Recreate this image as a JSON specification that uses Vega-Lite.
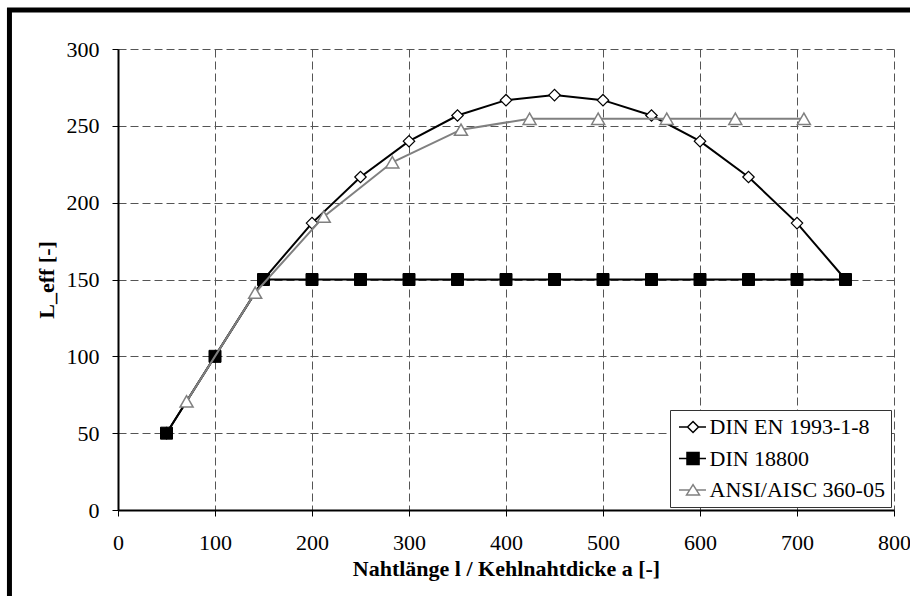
{
  "$schema": "https://vega.github.io/schema/vega-lite/v6.json",
  "width": 776,
  "height": 461,
  "autosize": {"type": "none"},
  "padding": {"left": 118, "top": 49, "right": 16, "bottom": 86},
  "background": "white",
  "config": {
    "view": {"stroke": null},
    "axis": {
      "labelFont": "Liberation Serif",
      "labelFontSize": 22,
      "labelColor": "black",
      "titleFont": "Liberation Serif",
      "titleFontSize": 22,
      "titleFontWeight": "bold",
      "titleColor": "black",
      "domainColor": "black",
      "domainWidth": 2,
      "tickColor": "black",
      "tickSize": 6,
      "tickWidth": 1,
      "grid": true,
      "gridColor": "#555555",
      "gridDash": [8, 4],
      "gridWidth": 1
    },
    "legend": {
      "labelFont": "Liberation Serif",
      "labelFontSize": 22,
      "labelColor": "black"
    }
  },
  "datasets": {
    "main": [
      {"x": 50, "y": 50, "series": "DIN EN 1993-1-8"},
      {"x": 100, "y": 100, "series": "DIN EN 1993-1-8"},
      {"x": 150, "y": 150, "series": "DIN EN 1993-1-8"},
      {"x": 200, "y": 186.7, "series": "DIN EN 1993-1-8"},
      {"x": 250, "y": 216.7, "series": "DIN EN 1993-1-8"},
      {"x": 300, "y": 240, "series": "DIN EN 1993-1-8"},
      {"x": 350, "y": 256.7, "series": "DIN EN 1993-1-8"},
      {"x": 400, "y": 266.7, "series": "DIN EN 1993-1-8"},
      {"x": 450, "y": 270, "series": "DIN EN 1993-1-8"},
      {"x": 500, "y": 266.7, "series": "DIN EN 1993-1-8"},
      {"x": 550, "y": 256.7, "series": "DIN EN 1993-1-8"},
      {"x": 600, "y": 240, "series": "DIN EN 1993-1-8"},
      {"x": 650, "y": 216.7, "series": "DIN EN 1993-1-8"},
      {"x": 700, "y": 186.7, "series": "DIN EN 1993-1-8"},
      {"x": 750, "y": 150, "series": "DIN EN 1993-1-8"},
      {"x": 50, "y": 50, "series": "DIN 18800"},
      {"x": 100, "y": 100, "series": "DIN 18800"},
      {"x": 150, "y": 150, "series": "DIN 18800"},
      {"x": 200, "y": 150, "series": "DIN 18800"},
      {"x": 250, "y": 150, "series": "DIN 18800"},
      {"x": 300, "y": 150, "series": "DIN 18800"},
      {"x": 350, "y": 150, "series": "DIN 18800"},
      {"x": 400, "y": 150, "series": "DIN 18800"},
      {"x": 450, "y": 150, "series": "DIN 18800"},
      {"x": 500, "y": 150, "series": "DIN 18800"},
      {"x": 550, "y": 150, "series": "DIN 18800"},
      {"x": 600, "y": 150, "series": "DIN 18800"},
      {"x": 650, "y": 150, "series": "DIN 18800"},
      {"x": 700, "y": 150, "series": "DIN 18800"},
      {"x": 750, "y": 150, "series": "DIN 18800"},
      {"x": 70.7, "y": 70.7, "series": "ANSI/AISC 360-05"},
      {"x": 141.4, "y": 141.4, "series": "ANSI/AISC 360-05"},
      {"x": 212.1, "y": 190.9, "series": "ANSI/AISC 360-05"},
      {"x": 282.8, "y": 226.3, "series": "ANSI/AISC 360-05"},
      {"x": 353.6, "y": 247.5, "series": "ANSI/AISC 360-05"},
      {"x": 424.3, "y": 254.6, "series": "ANSI/AISC 360-05"},
      {"x": 495.0, "y": 254.6, "series": "ANSI/AISC 360-05"},
      {"x": 565.7, "y": 254.6, "series": "ANSI/AISC 360-05"},
      {"x": 636.4, "y": 254.6, "series": "ANSI/AISC 360-05"},
      {"x": 707.1, "y": 254.6, "series": "ANSI/AISC 360-05"}
    ]
  },
  "layer": [
    {
      "data": {"name": "main"},
      "transform": [{"filter": "datum.series === 'DIN EN 1993-1-8'"}],
      "mark": {"type": "line", "strokeWidth": 2, "color": "black"},
      "encoding": {
        "x": {
          "field": "x", "type": "quantitative",
          "scale": {"domain": [0, 800], "nice": false, "zero": false},
          "axis": {"values": [0, 100, 200, 300, 400, 500, 600, 700, 800], "grid": true, "title": "Nahtlänge l / Kehlnahtdicke a [-]", "labelPadding": 16, "titlePadding": 5, "labelFlush": false}
        },
        "y": {
          "field": "y", "type": "quantitative",
          "scale": {"domain": [0, 300], "nice": false, "zero": false},
          "axis": {"values": [0, 50, 100, 150, 200, 250, 300], "grid": true, "title": "L_eff [-]", "labelPadding": 13, "titlePadding": 8}
        }
      }
    },
    {
      "data": {"name": "main"},
      "transform": [{"filter": "datum.series === 'DIN EN 1993-1-8'"}],
      "mark": {"type": "point", "shape": "diamond", "size": 130, "filled": true, "fill": "white", "stroke": "black", "strokeWidth": 1.2, "opacity": 1},
      "encoding": {
        "x": {"field": "x", "type": "quantitative"},
        "y": {"field": "y", "type": "quantitative"}
      }
    },
    {
      "data": {"name": "main"},
      "transform": [{"filter": "datum.series === 'DIN 18800'"}],
      "mark": {"type": "line", "strokeWidth": 2, "color": "black"},
      "encoding": {
        "x": {"field": "x", "type": "quantitative"},
        "y": {"field": "y", "type": "quantitative"}
      }
    },
    {
      "data": {"name": "main"},
      "transform": [{"filter": "datum.series === 'DIN 18800'"}],
      "mark": {"type": "point", "shape": "square", "size": 144, "filled": true, "fill": "black", "stroke": "black", "strokeWidth": 1, "opacity": 1},
      "encoding": {
        "x": {"field": "x", "type": "quantitative"},
        "y": {"field": "y", "type": "quantitative"}
      }
    },
    {
      "data": {"name": "main"},
      "transform": [{"filter": "datum.series === 'ANSI/AISC 360-05'"}],
      "mark": {"type": "line", "strokeWidth": 2, "color": "#808080"},
      "encoding": {
        "x": {"field": "x", "type": "quantitative"},
        "y": {"field": "y", "type": "quantitative"}
      }
    },
    {
      "data": {"name": "main"},
      "transform": [{"filter": "datum.series === 'ANSI/AISC 360-05'"}],
      "mark": {"type": "point", "shape": "triangle-up", "size": 170, "filled": true, "fill": "white", "stroke": "#808080", "strokeWidth": 1.5, "opacity": 1},
      "encoding": {
        "x": {"field": "x", "type": "quantitative"},
        "y": {"field": "y", "type": "quantitative"}
      }
    },
    {
      "data": {"name": "main"},
      "transform": [{"filter": "datum.x > 100000"}],
      "mark": {"type": "point", "filled": true, "strokeWidth": 1.5, "opacity": 1},
      "encoding": {
        "x": {"field": "x", "type": "quantitative"},
        "y": {"field": "y", "type": "quantitative"},
        "shape": {
          "field": "series", "type": "nominal",
          "scale": {"domain": ["DIN EN 1993-1-8", "DIN 18800", "ANSI/AISC 360-05"], "range": [
            "M-0.89,0L0.06,0M0.06,0L0.67,-0.61L1.28,0L0.67,0.61ZM1.28,0L2.11,0",
            "M-0.89,0L2.11,0M0,-0.67L1.34,-0.67L1.34,0.67L0,0.67Z",
            "M-0.89,0L0.295,0M1.045,0L2.11,0M0.67,-0.6L1.39,0.55L-0.05,0.55Z"
          ]},
          "legend": {
            "title": null,
            "orient": "bottom-right",
            "offset": 3,
            "padding": 6,
            "rowPadding": 9.5,
            "labelOffset": 11.5,
            "strokeColor": "#333333",
            "fillColor": "white",
            "symbolSize": 324,
            "symbolStrokeWidth": 1.5,
            "symbolOpacity": 1,
            "labelLimit": 400,
            "labelExpr": "datum.label + '  '"
          }
        },
        "fill": {
          "field": "series", "type": "nominal",
          "scale": {"domain": ["DIN EN 1993-1-8", "DIN 18800", "ANSI/AISC 360-05"], "range": ["white", "black", "white"]}
        },
        "stroke": {
          "field": "series", "type": "nominal",
          "scale": {"domain": ["DIN EN 1993-1-8", "DIN 18800", "ANSI/AISC 360-05"], "range": ["black", "black", "#808080"]}
        }
      }
    },
    {
      "data": {"values": [{"a": 1}]},
      "mark": {"type": "rule", "color": "black", "strokeWidth": 5, "clip": false},
      "encoding": {
        "x": {"datum": -114.4, "type": "quantitative"},
        "x2": {"datum": 816.5},
        "y": {"datum": 325.4, "type": "quantitative"}
      }
    },
    {
      "data": {"values": [{"a": 1}]},
      "mark": {"type": "rule", "color": "black", "strokeWidth": 5, "clip": false},
      "encoding": {
        "x": {"datum": -111.9, "type": "quantitative"},
        "y": {"datum": 326.7, "type": "quantitative"},
        "y2": {"datum": -56}
      }
    }
  ]
}
